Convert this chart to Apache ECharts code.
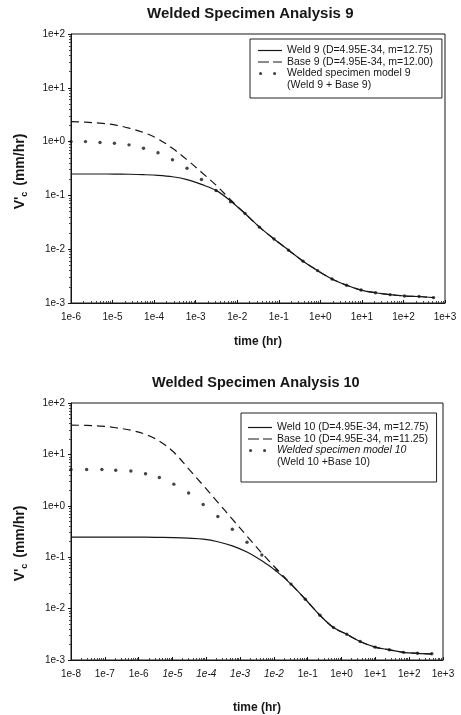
<!DOCTYPE html>
<html>
<head>
<meta charset="utf-8">
<script src="https://cdn.jsdelivr.net/npm/echarts@6/dist/echarts.min.js"></script>
<style>
  html, body { margin: 0; padding: 0; background: #fff; }
  #chart { width: 461px; height: 715px; }
</style>
</head>
<body>
<div id="chart"></div>
<script>
// ---- Analysis 9: creep crack growth rate vs time ----
const time9 = [1e-6, 2.23e-6, 4.99e-6, 1.11e-5, 2.49e-5, 5.56e-5, 1.24e-4, 2.77e-4, 6.19e-4, 1.38e-3,
  3.09e-3, 6.90e-3, 1.54e-2, 3.44e-2, 7.69e-2, 0.172, 0.384, 0.857, 1.91, 4.28, 9.55, 21.3, 47.6, 106, 238, 531];
const weld9 = [0.25, 0.25, 0.25, 0.249, 0.247, 0.243, 0.236, 0.222, 0.197, 0.16,
  0.124, 0.079, 0.046, 0.0257, 0.0155, 0.0096, 0.0060, 0.0040, 0.0028, 0.00214, 0.00174, 0.00155, 0.00143, 0.00135, 0.00132, 0.00126];
const base9 = [2.35, 2.3, 2.2, 2.05, 1.78, 1.48, 1.12, 0.75, 0.46, 0.27,
  0.155, 0.083, 0.046, 0.0257, 0.0155, 0.0096, 0.0060, 0.0040, 0.0028, 0.00214, 0.00174, 0.00155, 0.00143, 0.00135, 0.00132, 0.00126];
const model9 = [1.0, 1.0, 0.96, 0.93, 0.87, 0.75, 0.62, 0.46, 0.32, 0.197,
  0.123, 0.076, 0.046, 0.0257, 0.0155, 0.0096, 0.0060, 0.0040, 0.0028, 0.00214, 0.00174, 0.00155, 0.00143, 0.00135, 0.00132, 0.00126];

// ---- Analysis 10 ----
const time10 = [1e-8, 2.9e-8, 8.2e-8, 2.1e-7, 5.9e-7, 1.6e-6, 4.1e-6, 1.1e-5, 3.0e-5, 8.1e-5, 2.2e-4, 5.9e-4, 1.6e-3,
  4.4e-3, 1.2e-2, 3.2e-2, 8.5e-2, 0.23, 0.58, 1.43, 3.55, 9.9, 25.7, 67.6, 176, 468];
const weld10 = [0.245, 0.245, 0.245, 0.245, 0.245, 0.245, 0.243, 0.24, 0.234, 0.224, 0.20, 0.166, 0.126,
  0.085, 0.053, 0.030, 0.0152, 0.0074, 0.00427, 0.00316, 0.00229, 0.00178, 0.00158, 0.00141, 0.00135, 0.00132];
const base10 = [37, 36.7, 35.5, 33, 29.5, 24.5, 18.2, 11, 5.25, 2.5, 1.17, 0.55, 0.257,
  0.12, 0.059, 0.030, 0.0152, 0.0074, 0.00427, 0.00316, 0.00229, 0.00178, 0.00158, 0.00141, 0.00135, 0.00132];
const model10 = [5.1, 5.1, 5.1, 4.9, 4.75, 4.2, 3.55, 2.64, 1.77, 1.06, 0.62, 0.35, 0.195,
  0.11, 0.056, 0.030, 0.0152, 0.0074, 0.00427, 0.00316, 0.00229, 0.00178, 0.00158, 0.00141, 0.00135, 0.00132];

// Text
const titles = ['Welded Specimen Analysis 9', 'Welded Specimen Analysis 10'];
const names9 = ['Weld 9 (D=4.95E-34, m=12.75)', 'Base 9 (D=4.95E-34, m=12.00)', 'Welded specimen model 9'];
const names10 = ['Weld 10 (D=4.95E-34, m=12.75)', 'Base 10 (D=4.95E-34, m=11.25)', 'Welded specimen model 10'];
const modelNotes = ['(Weld 9 + Base 9)', '(Weld 10 +Base 10)'];
const xName = 'time (hr)';
const yName = "V'{s|c} (mm/hr)";
// axis ranges as decade exponents
const xRange9 = [-6, 3], xRange10 = [-8, 3], yRange = [-3, 2];
const italicExp10 = [-5, -4, -3, -2];

const FONT = '"Liberation Sans", Arial, Helvetica, sans-serif';
const INK = '#161616';
const LEG_FS = 10.5;
const LEG_GAP = 0.5;

function pairs(t, v) { return t.map((x, i) => [x, v[i]]); }
function expLabel(v) {
  const e = Math.round(Math.log10(v));
  return '1e' + (e >= 0 ? '+' : '-') + Math.abs(e);
}

// legend glyphs drawn in a 24x10 box
const solidIcon = 'path://M0,0M24,10M0,4.4h24v1.2h-24z';
const dashIcon = 'path://M0,0M24,10M0,4.4h11v1.2h-11zM15,4.4h9v1.2h-9z';
const dotsIcon = 'path://M0,0M24,10M1,5a1.6,1.6 0 1,0 3.2,0a1.6,1.6 0 1,0 -3.2,0zM15,5a1.6,1.6 0 1,0 3.2,0a1.6,1.6 0 1,0 -3.2,0z';

function xAxisCfg(gi, range, italic) {
  return {
    gridIndex: gi, type: 'log', logBase: 10,
    min: Math.pow(10, range[0]), max: Math.pow(10, range[1]), interval: 1,
    name: xName, nameLocation: 'middle', nameGap: gi === 0 ? 33 : 42,
    nameTextStyle: { fontFamily: FONT, fontWeight: 'bold', fontSize: 12, color: INK },
    axisLine: { show: true, lineStyle: { color: INK, width: 1 } },
    axisTick: { show: true, inside: true, length: 3, lineStyle: { color: INK } },
    minorTick: { show: true, splitNumber: 9, length: 2, lineStyle: { color: '#444' } },
    splitLine: { show: false },
    axisLabel: {
      fontFamily: FONT, fontSize: 10, color: INK, margin: 9,
      formatter: v => {
        const s = expLabel(v);
        return italic && italic.includes(Math.round(Math.log10(v))) ? '{i|' + s + '}' : s;
      },
      rich: { i: { fontStyle: 'italic', fontFamily: FONT, fontSize: 10, color: INK } }
    }
  };
}
function yAxisCfg(gi) {
  return {
    gridIndex: gi, type: 'log', logBase: 10,
    min: Math.pow(10, yRange[0]), max: Math.pow(10, yRange[1]), interval: 1,
    name: yName, nameLocation: 'middle', nameGap: 42, nameRotate: 90,
    nameTextStyle: {
      fontFamily: FONT, fontWeight: 'bold', fontSize: 14, color: INK,
      padding: gi === 0 ? [0, 6, 0, 0] : [0, 24, 0, 0],
      rich: { s: { fontFamily: FONT, fontWeight: 'bold', fontSize: 9, color: INK, padding: [8, 2, 0, 0] } }
    },
    axisLine: { show: true, lineStyle: { color: INK, width: 1 } },
    axisTick: { show: true, inside: false, length: 3, lineStyle: { color: INK } },
    minorTick: { show: true, splitNumber: 9, length: 2, lineStyle: { color: '#444' } },
    splitLine: { show: false },
    axisLabel: { fontFamily: FONT, fontSize: 10, color: INK, margin: 6, formatter: expLabel }
  };
}
function legendCfg(names, left, top, pad, italicModel) {
  return {
    orient: 'vertical', left: left, top: top,
    padding: pad, itemGap: LEG_GAP, itemWidth: 24, itemHeight: 10,
    borderColor: '#222', borderWidth: 1, borderRadius: 0,
    backgroundColor: '#fff', symbolKeepAspect: true, selectedMode: false,
    textStyle: { fontFamily: FONT, fontSize: LEG_FS, color: INK, lineHeight: 11,
      rich: { i: { fontStyle: 'italic', fontFamily: FONT, fontSize: LEG_FS, color: INK, lineHeight: 11 } } },
    formatter: italicModel ? (n => n === names[2] ? '{i|' + n + '}' : n) : undefined,
    data: [
      { name: names[0], icon: solidIcon },
      { name: names[1], icon: dashIcon },
      { name: names[2], icon: dotsIcon }
    ]
  };
}
function lineSeries(name, gi, t, v, dashed) {
  return {
    name: name, type: 'line', xAxisIndex: gi, yAxisIndex: gi,
    data: pairs(t, v), symbol: 'none', smooth: 0.35,
    lineStyle: { color: INK, width: 1.2, type: dashed ? [8, 5] : 'solid' },
    itemStyle: { color: INK }, z: 2
  };
}
function dotSeries(name, gi, t, v) {
  return {
    name: name, type: 'scatter', xAxisIndex: gi, yAxisIndex: gi,
    data: pairs(t, v), symbol: 'circle', symbolSize: 3.4,
    itemStyle: { color: INK, borderWidth: 0 }, z: 3
  };
}
// second line of the model entry, set under its legend label
function noteText(text, x, y) {
  return {
    type: 'text', x: x, y: y, z: 100,
    style: { text: text, fontFamily: FONT, fontSize: LEG_FS, fill: INK, verticalAlign: 'middle', align: 'left' }
  };
}

const leg9 = { left: 250, top: 39, pad: [6, 9, 19, 8] };
const leg10 = { left: 241, top: 413, pad: [9, 8, 26, 7] };
const rowStep = 11 + LEG_GAP;

const option = {
  backgroundColor: '#fff',
  animation: false,
  title: [
    { text: titles[0], left: 147, top: 6, padding: 0,
      textStyle: { fontFamily: FONT, fontWeight: 'bold', fontSize: 15, color: INK } },
    { text: titles[1], left: 152, top: 375, padding: 0,
      textStyle: { fontFamily: FONT, fontWeight: 'bold', fontSize: 14.5, color: INK } }
  ],
  grid: [
    { left: 71, top: 34, width: 374, height: 269, show: true, borderColor: INK, borderWidth: 1, backgroundColor: 'transparent' },
    { left: 71, top: 403, width: 372, height: 261, show: true, borderColor: INK, borderWidth: 1, backgroundColor: 'transparent' }
  ],
  xAxis: [xAxisCfg(0, xRange9, null), xAxisCfg(1, xRange10, italicExp10)],
  yAxis: [yAxisCfg(0), yAxisCfg(1)],
  legend: [
    legendCfg(names9, leg9.left, leg9.top, leg9.pad, false),
    legendCfg(names10, leg10.left, leg10.top, leg10.pad, true)
  ],
  graphic: [
    noteText(modelNotes[0], leg9.left + leg9.pad[3] + 29, leg9.top + leg9.pad[0] + 5.5 + 3 * rowStep),
    noteText(modelNotes[1], leg10.left + leg10.pad[3] + 29, leg10.top + leg10.pad[0] + 5.5 + 3 * rowStep)
  ],
  series: [
    lineSeries(names9[0], 0, time9, weld9, false),
    lineSeries(names9[1], 0, time9, base9, true),
    dotSeries(names9[2], 0, time9, model9),
    lineSeries(names10[0], 1, time10, weld10, false),
    lineSeries(names10[1], 1, time10, base10, true),
    dotSeries(names10[2], 1, time10, model10)
  ]
};

const chart = echarts.init(document.getElementById('chart'), null, { renderer: 'canvas' });
chart.setOption(option);
</script>
</body>
</html>
